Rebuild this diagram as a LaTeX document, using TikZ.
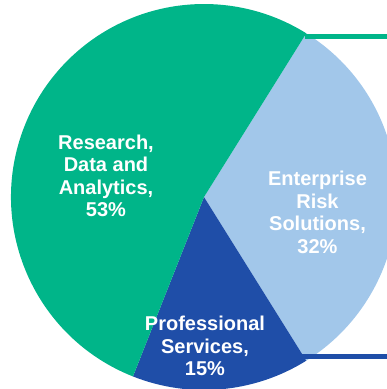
\documentclass[tikz,border=0pt]{standalone}
\usepackage{fontspec}
\setmainfont{Liberation Sans}
\definecolor{rdagreen}{RGB}{0,181,137}
\definecolor{erslight}{RGB}{162,199,234}
\definecolor{psdark}{RGB}{31,78,168}
\begin{document}
\begin{tikzpicture}[x=1pt,y=-1pt,
  lbl/.style={text=white,font=\fontsize{20}{22.5}\selectfont\bfseries,align=center,inner sep=0pt,anchor=north},
  leader/.style={line width=5pt}]
\useasboundingbox (0,0) rectangle (387,389);
\clip (0,0) rectangle (387,389);
\coordinate (c) at (204,197);
% slices (y axis points down: angle a here is -a on screen)
\fill[erslight] (c) -- ++(-58:193) arc[start angle=-58,end angle=58,radius=193] -- cycle;
\fill[psdark] (c) -- ++(58:193) arc[start angle=58,end angle=111.6,radius=193] -- cycle;
\fill[rdagreen] (c) -- ++(111.6:193) arc[start angle=111.6,end angle=302,radius=193] -- cycle;
% leader lines
\coordinate (gl) at (305,36.5);
\coordinate (gr) at (387,36.5);
\coordinate (bl) at (302,356.3);
\coordinate (br) at (387,356.3);
\draw[leader,rdagreen] (gl) -- (gr);
\draw[leader,psdark] (bl) -- (br);
% labels
\node[lbl] (rda) at (106,134.5) {Research,\\Data and\\Analytics,\\53\%};
\node[lbl] (ers) at (317.5,171) {Enterprise\\Risk\\Solutions,\\32\%};
\node[lbl] (ps) at (205,316) {Professional\\Services,\\15\%};
\end{tikzpicture}
\end{document}
